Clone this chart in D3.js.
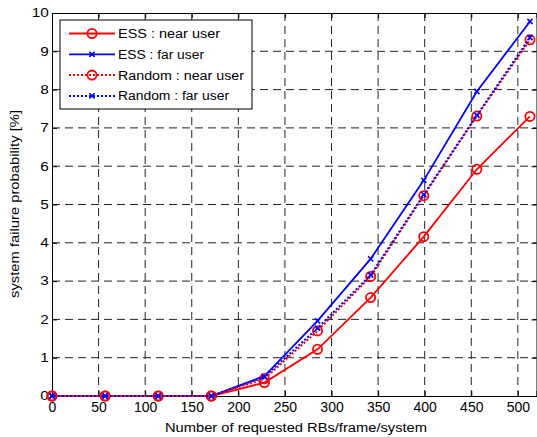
<!DOCTYPE html>
<html>
<head>
<meta charset="utf-8">
<script src="https://cdn.jsdelivr.net/npm/d3@7"></script>
<style>
  body { margin: 0; background: #fff; }
  svg { display: block; font-family: "Liberation Sans", Arial, sans-serif; }
</style>
</head>
<body>
<div id="chart"></div>
<script>
// requested RBs per frame per system
let rbs = [0, 57, 114, 171, 228, 285, 342, 399, 456, 513];

let ess_near = [0, 0, 0, 0, 0.35, 1.22, 2.57, 4.16, 5.92, 7.3];
let ess_far = [0, 0, 0, 0, 0.52, 1.96, 3.58, 5.63, 7.95, 9.78];
let rand_near = [0, 0, 0, 0, 0.45, 1.7, 3.12, 5.23, 7.31, 9.3];
let rand_far = [0, 0, 0, 0, 0.5, 1.77, 3.16, 5.26, 7.33, 9.36];

let series_names = ["ESS : near user", "ESS : far user", "Random : near user", "Random : far user"];

let x_ticks = [0, 50, 100, 150, 200, 250, 300, 350, 400, 450, 500];
let y_ticks = [0, 1, 2, 3, 4, 5, 6, 7, 8, 9, 10];

let width = 537, height = 437;
let p_left = 52, p_right = 536.5, p_top = 13, p_bottom = 396;

let svg = d3.select('#chart').append('svg')
    .attr('width', width)
    .attr('height', height);

let x = d3.scaleLinear().domain([0, 520]).range([p_left, p_right]);
let y = d3.scaleLinear().domain([0, 10]).range([p_bottom, p_top]);

// grid
let grid = svg.append('g');
grid.selectAll('.vg')
    .data(x_ticks.filter(d => d > 0))
    .enter().append('line')
    .attr('x1', d => x(d)).attr('x2', d => x(d))
    .attr('y1', p_top).attr('y2', p_bottom)
    .attr('stroke', '#222').attr('stroke-width', 1)
    .attr('stroke-dasharray', '8,5');
grid.selectAll('.hg')
    .data(y_ticks.filter(d => d > 0 && d < 10))
    .enter().append('line')
    .attr('x1', p_left).attr('x2', p_right)
    .attr('y1', d => y(d)).attr('y2', d => y(d))
    .attr('stroke', '#222').attr('stroke-width', 1)
    .attr('stroke-dasharray', '8,5');

// axes, ticks inward on all sides
let xAxis = svg.append('g')
    .attr('transform', 'translate(0,' + p_bottom + ')')
    .call(d3.axisBottom(x).tickValues(x_ticks).tickSize(-5));
let xTop = svg.append('g')
    .attr('transform', 'translate(0,' + p_top + ')')
    .call(d3.axisTop(x).tickValues(x_ticks).tickSize(-5).tickFormat(''));
let yAxis = svg.append('g')
    .attr('transform', 'translate(' + p_left + ',0)')
    .call(d3.axisLeft(y).tickValues(y_ticks).tickSize(-5).tickPadding(3));
let yRight = svg.append('g')
    .attr('transform', 'translate(' + p_right + ',0)')
    .call(d3.axisRight(y).tickValues(y_ticks).tickSize(-5).tickFormat(''));

[xAxis, xTop, yAxis, yRight].forEach(function(a) {
    a.select('.domain').attr('stroke', '#000').attr('stroke-width', 1);
    a.selectAll('.tick line').attr('stroke', '#000');
});
xAxis.selectAll('text')
    .attr('font-size', 14)
    .attr('fill', '#000')
    .attr('y', 15.5)
    .attr('dy', 0);
yAxis.selectAll('text')
    .attr('font-size', 12)
    .attr('fill', '#000')
    .attr('x', -2.5)
    .attr('transform', 'scale(1.28,1)');

// axis labels
svg.append('text')
    .attr('x', 296).attr('y', 431.5)
    .attr('text-anchor', 'middle')
    .attr('font-size', 12.5)
    .attr('textLength', 262)
    .attr('lengthAdjust', 'spacingAndGlyphs')
    .text('Number of requested RBs/frame/system');
svg.append('text')
    .attr('transform', 'translate(19,204) rotate(-90)')
    .attr('text-anchor', 'middle')
    .attr('font-size', 12.5)
    .attr('textLength', 188)
    .attr('lengthAdjust', 'spacingAndGlyphs')
    .text('system failure probability [%]');

// series
let series = [
    {name: series_names[0], values: ess_near, color: '#ff0000', dash: null, marker: 'o'},
    {name: series_names[1], values: ess_far, color: '#0000ff', dash: null, marker: 'x'},
    {name: series_names[2], values: rand_near, color: '#ff0000', dash: '2,2', marker: 'o'},
    {name: series_names[3], values: rand_far, color: '#0000ff', dash: '2,2', marker: 'x', offset: 2}
];

let line = d3.line()
    .x(d => x(d[0]))
    .y(d => y(d[1]));

function drawMarker(g, type, cx, cy, color) {
    if (type == 'o') {
        g.append('circle')
            .attr('cx', cx).attr('cy', cy).attr('r', 4.6)
            .attr('fill', 'none')
            .attr('stroke', color).attr('stroke-width', 1.8);
    } else {
        let s = 2.6;
        g.append('path')
            .attr('d', 'M' + (cx - s) + ',' + (cy - s) + 'L' + (cx + s) + ',' + (cy + s) +
                       'M' + (cx - s) + ',' + (cy + s) + 'L' + (cx + s) + ',' + (cy - s))
            .attr('stroke', color).attr('stroke-width', 1.6)
            .attr('fill', 'none');
    }
}

let plot = svg.append('g');
series.forEach(function(s) {
    let pts = rbs.map((r, i) => [r, s.values[i]]);
    let g = plot.append('g');
    g.append('path')
        .datum(pts)
        .attr('d', line)
        .attr('fill', 'none')
        .attr('stroke', s.color)
        .attr('stroke-width', s.dash ? 2 : 1.8)
        .attr('stroke-dasharray', s.dash)
        .attr('stroke-dashoffset', s.offset || 0);
    pts.forEach(p => drawMarker(g, s.marker, x(p[0]), y(p[1]), s.color));
});

// legend
let legend = svg.append('g');
legend.append('rect')
    .attr('x', 60).attr('y', 20)
    .attr('width', 192).attr('height', 89)
    .attr('fill', '#fff')
    .attr('stroke', '#000').attr('stroke-width', 1);
let legend_w = [102, 86, 126, 111];
series.forEach(function(s, i) {
    let ly = 33.5 + i * 20.8;
    let g = legend.append('g');
    g.append('line')
        .attr('x1', 69).attr('x2', 115)
        .attr('y1', ly).attr('y2', ly)
        .attr('stroke', s.color)
        .attr('stroke-width', s.dash ? 2 : 1.8)
        .attr('stroke-dasharray', s.dash);
    drawMarker(g, s.marker, 92, ly, s.color);
    g.append('text')
        .attr('x', 118).attr('y', ly + 4.5)
        .attr('font-size', 12.5)
        .attr('textLength', legend_w[i])
        .attr('lengthAdjust', 'spacingAndGlyphs')
        .text(s.name);
});
</script>
</body>
</html>
